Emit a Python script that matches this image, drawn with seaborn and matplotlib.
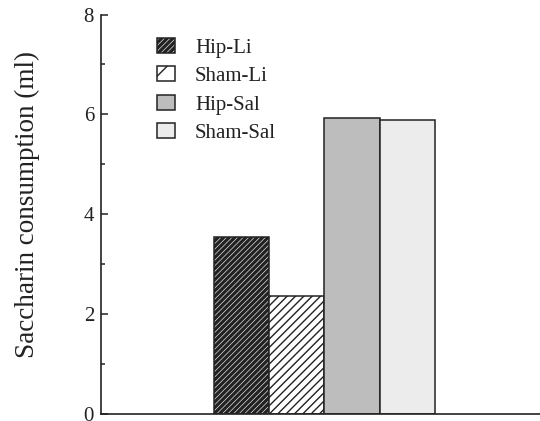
import matplotlib
matplotlib.use("Agg")
import matplotlib.pyplot as plt
import seaborn as sns
import pandas as pd
from matplotlib.ticker import MultipleLocator
from matplotlib.patches import Patch

groups = ["Hip-Li", "Sham-Li", "Hip-Sal", "Sham-Sal"]
consumption = [3.54, 2.35, 5.92, 5.89]
yticks = [0, 2, 4, 6, 8]

faces = ["white", "white", "#bdbdbd", "#ececec"]
hatches = ["//////", "////", "", ""]
legend_hatches = ["//////", "/", "", ""]
hatch_widths = [2.4, 1.0, 1.0, 1.0]
edge = "#222222"

df = pd.DataFrame({"cond": [""] * len(groups), "group": groups, "value": consumption})

sns.set_style("white")
plt.rcParams["font.family"] = ["Liberation Serif", "DejaVu Serif"]


def style_patch(p, fc, h, hw):
    p.set_facecolor(fc)
    p.set_edgecolor(edge)
    p.set_linewidth(1.1)
    p.set_hatch(h)
    if hasattr(p, "set_hatch_linewidth"):
        p.set_hatch_linewidth(hw)
    else:
        p._hatch_linewidth = hw


fig = plt.figure(figsize=(5.40, 4.21), dpi=100)
ax = fig.add_axes([0.187, 0.0178, 0.813, 0.9477])

sns.barplot(data=df, x="cond", y="value", hue="group", hue_order=groups,
            palette=faces, width=0.8, ax=ax, legend=False, saturation=1)

for patch, fc, h, hw in zip(ax.patches, faces, hatches, hatch_widths):
    style_patch(patch, fc, h, hw)

ax.set_xlim(-0.809, 0.780)
ax.set_ylim(0, 8)
ax.set_yticks(yticks)
ax.yaxis.set_minor_locator(MultipleLocator(1))
ax.tick_params(axis="y", which="major", direction="in", length=5, width=1.1,
               labelsize=15, pad=5, left=True, colors="#222222")
ax.tick_params(axis="y", which="minor", direction="in", length=3, width=1.1,
               left=True, colors="#222222")
ax.set_xticks([])
ax.set_xlabel("")
ax.set_ylabel("Saccharin consumption (ml)", fontsize=19.5, color="#222222")
ax.yaxis.set_label_coords(-0.139, 0.523)

for s in ["top", "right"]:
    ax.spines[s].set_visible(False)
for s in ["left", "bottom"]:
    ax.spines[s].set_color(edge)
    ax.spines[s].set_linewidth(1.2)

handles = []
for fc, h, hw in zip(faces, legend_hatches, hatch_widths):
    hp = Patch()
    style_patch(hp, fc, h, hw)
    handles.append(hp)

leg = ax.legend(handles, groups, loc="upper left",
                bbox_to_anchor=(157 / 540, 1 - 38 / 421), bbox_transform=fig.transFigure,
                frameon=False, fontsize=15, handlelength=0.87, handleheight=0.72,
                handletextpad=0.96, labelspacing=0.42, borderpad=0, borderaxespad=0,
                labelcolor="#222222")
for lp, fc, h, hw in zip(leg.get_patches(), faces, legend_hatches, hatch_widths):
    style_patch(lp, fc, h, hw)

fig.savefig("out.png", dpi=100)
